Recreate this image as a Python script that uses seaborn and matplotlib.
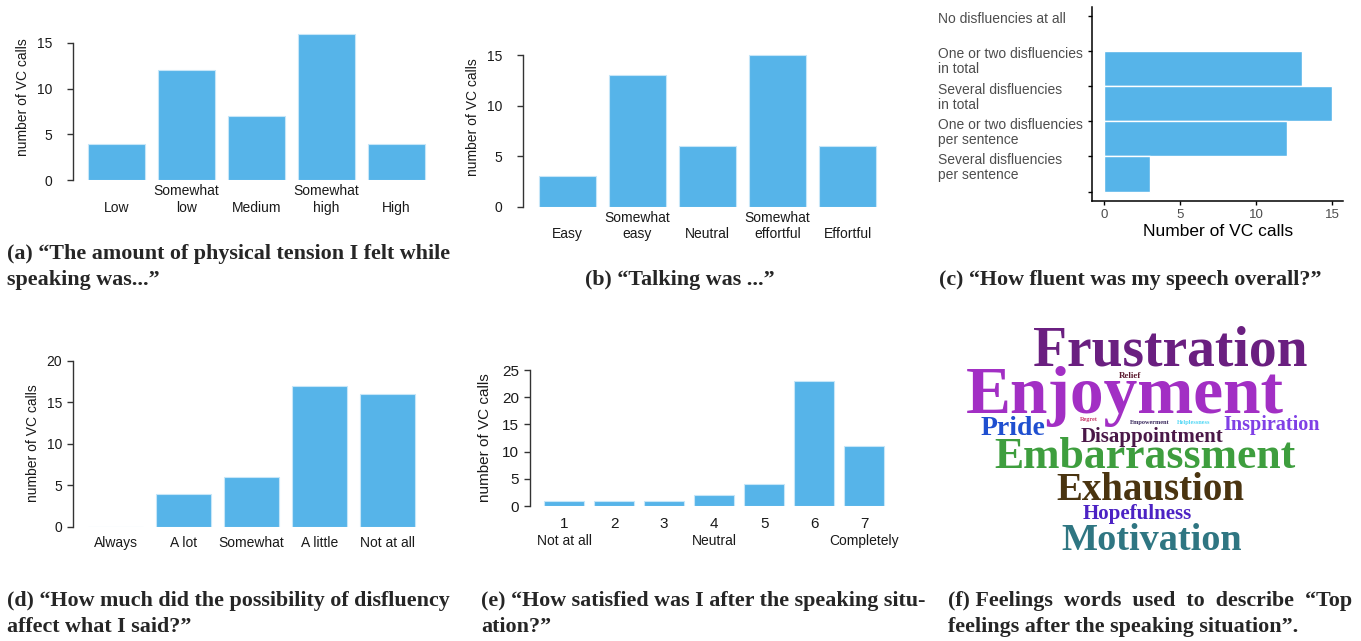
import numpy as np
import pandas as pd
import matplotlib
matplotlib.use('Agg')
import matplotlib.pyplot as plt
import matplotlib.transforms as mtransforms
import seaborn as sns


sns.set_style('white')
plt.rcParams['font.family'] = ['Liberation Sans', 'DejaVu Sans']

BAR = '#56B4E9'
EDGE = '#c6e6f8'

# (a) physical tension
tension_levels = ['Low', 'Somewhat\nlow', 'Medium', 'Somewhat\nhigh', 'High']
tension_calls = [4, 12, 7, 16, 4]

# (b) talking effort
talk_levels = ['Easy', 'Somewhat\neasy', 'Neutral', 'Somewhat\neffortful', 'Effortful']
talk_calls = [3, 13, 6, 15, 6]

# (c) fluency, top to bottom
fluency_levels = ['No disfluencies at all',
                  'One or two disfluencies\nin total',
                  'Several disfluencies\nin total',
                  'One or two disfluencies\nper sentence',
                  'Several disfluencies\nper sentence']
fluency_calls = [0, 13, 15, 12, 3]
fluency_ticks = [0, 5, 10, 15]

# (d) disfluency affecting speech
affect_levels = ['Always', 'A lot', 'Somewhat', 'A little', 'Not at all']
affect_calls = [0, 4, 6, 17, 16]

# (e) satisfaction
satisfied_scores = ['1', '2', '3', '4', '5', '6', '7']
satisfied_calls = [1, 1, 1, 2, 4, 23, 11]
satisfied_anchor_pos = [0, 3, 6]
satisfied_anchor_text = ['Not at all', 'Neutral', 'Completely']

# (f) feeling words
feeling_words = ['Frustration', 'Enjoyment', 'Relief', 'Pride', 'Regret', 'Empowerment',
                 'Helplessness', 'Inspiration', 'Disappointment', 'Embarrassment',
                 'Exhaustion', 'Hopefulness', 'Motivation']
feeling_colors = ['#6a1f80', '#a22fc4', '#5c1a2e', '#1f4fd0', '#c83a6a', '#3a2a5e',
                  '#4fd7f5', '#8040e6', '#4a1848', '#3e9e3e', '#4a3410', '#4c22c4', '#2f7682']

captions = ['(a) \u201cThe amount of physical tension I felt while\nspeaking was...\u201d',
            '(b) \u201cTalking was ...\u201d',
            '(c) \u201cHow fluent was my speech overall?\u201d',
            '(d) \u201cHow much did the possibility of disfluency\naffect what I said?\u201d',
            '(e) \u201cHow satisfied was I after the speaking situ-\nation?\u201d',
            '(f) Feelings  words  used  to  describe  \u201cTop\nfeelings after the speaking situation\u201d.']


W, H = 1361, 641
fig = plt.figure(figsize=(W / 100, H / 100), dpi=100)


def px_axes(left, top, right, bottom):
    return fig.add_axes([left / W, 1 - bottom / H, (right - left) / W, (bottom - top) / H])


def r_bars(levels, calls, left, right, bottom, ppu, c0, pitch, ymax, yticks,
           width, ypad, xpad, fs=10, ylab_fs=10, ylab_xy=(0, 0)):
    ax = px_axes(left, bottom - ymax * ppu, right, bottom)
    df = pd.DataFrame({'level': levels, 'calls': calls})
    sns.barplot(data=df, x='level', y='calls', color=BAR, saturation=1, width=width,
                edgecolor=EDGE, linewidth=0.8, errorbar=None, ax=ax)
    ax.set_xlim(-(c0 - left) / pitch, (right - c0) / pitch)
    ax.set_ylim(0, ymax)
    sns.despine(ax=ax, bottom=True)
    ax.spines['left'].set_bounds(yticks[0], yticks[-1])
    ax.spines['left'].set_color('#333333')
    ax.spines['left'].set_linewidth(1)
    ax.set_yticks(yticks)
    ax.tick_params(axis='y', left=True, length=4, width=1, color='#333333',
                   pad=ypad, labelsize=fs, labelcolor='#1a1a1a')
    ax.tick_params(axis='x', length=0, pad=xpad, labelsize=fs, labelcolor='#1a1a1a')
    if any('\n' in l for l in levels):
        ax.set_xticks(range(len(levels)))
        ax.set_xticklabels([l if '\n' in l else '\n' + l for l in levels])
    ax.set_xlabel('')
    ax.set_ylabel('number of VC calls', fontsize=ylab_fs, color='#1a1a1a')
    ax.yaxis.set_label_coords(ylab_xy[0] / W, 1 - ylab_xy[1] / H, transform=fig.transFigure)
    return ax


# (a)
r_bars(tension_levels, tension_calls, 73, 440, 180.3, 9.17, 116.5, 70, 17,
       [0, 5, 10, 15], 0.814, ypad=11, xpad=3, ylab_xy=(30, 97))

# (b)
r_bars(talk_levels, talk_calls, 523, 890, 206.7, 10.11, 567.5, 70, 16.5,
       [0, 5, 10, 15], 0.814, ypad=11, xpad=3, ylab_xy=(480, 117))

# (d)
r_bars(affect_levels, affect_calls, 73.3, 440, 526.7, 8.3, 115.5, 68, 20.5,
       [0, 5, 10, 15, 20], 0.81, ypad=4, xpad=6.5, ylab_xy=(40, 443))

# (e)
axe = r_bars(satisfied_scores, satisfied_calls, 530, 900, 506, 5.44, 564.2, 50, 25.5,
             [0, 5, 10, 15, 20, 25], 0.806, ypad=4, xpad=8, fs=11, ylab_fs=11,
             ylab_xy=(492, 438))
for pos, txt in zip(satisfied_anchor_pos, satisfied_anchor_text):
    axe.annotate(txt, xy=(pos, 0), xycoords='data', xytext=(0, -25), textcoords='offset points',
                 ha='center', va='center', fontsize=10, color='#1a1a1a', annotation_clip=False)

# (c) horizontal bars, ggplot look
axc = px_axes(1092.3, 6.7, 1343, 200.7)
dfc = pd.DataFrame({'level': fluency_levels, 'calls': fluency_calls})
sns.barplot(data=dfc, y='level', x='calls', orient='h', color=BAR, saturation=1, width=1,
            edgecolor='white', linewidth=1, errorbar=None, ax=axc)
axc.set_xlim(-0.77, 15.7)
axc.set_ylim(4.756, -0.756)
sns.despine(ax=axc)
for s in ['left', 'bottom']:
    axc.spines[s].set_color('black')
    axc.spines[s].set_linewidth(1.1)
edges = np.arange(len(fluency_levels) + 1) - 0.5
axc.set_yticks(edges)
axc.set_yticklabels([])
axc.set_xticks(fluency_ticks)
axc.tick_params(axis='both', length=3, width=1, color='black', left=True, bottom=True)
axc.tick_params(axis='x', labelsize=9.5, labelcolor='#4d4d4d', pad=3)
axc.set_ylabel('')
axc.set_xlabel('Number of VC calls', fontsize=12.5, color='black', labelpad=2)
lab_tr = mtransforms.blended_transform_factory(fig.transFigure, axc.transData)
for i, lab in enumerate(fluency_levels):
    axc.text(938 / W, edges[i] - 0.1, lab, transform=lab_tr, ha='left', va='top',
             fontsize=10, color='#4d4d4d', linespacing=1.1)

# (f) word cloud
axf = px_axes(950, 320, 1361, 565)
axf.set_xlim(950, 1361)
axf.set_ylim(565, 320)
axf.axis('off')
word_xy = [(1170, 365), (1125, 413), (1130, 378), (1013, 435), (1089, 421), (1150, 424),
           (1194, 424), (1272, 430), (1152, 442), (1145, 468), (1150, 500), (1137, 519),
           (1152, 550)]
word_pt = [40, 48.5, 6.5, 20, 4.5, 4.5, 4.5, 14.5, 15, 31.5, 28, 15, 27.5]
for w, c, (x, y), s in zip(feeling_words, feeling_colors, word_xy, word_pt):
    axf.text(x, y, w, ha='center', va='baseline', fontsize=s, color=c,
             family='Liberation Serif', weight='bold')

# captions
cap_xy = [(7, 244, 'left'), (680, 270, 'center'), (1130, 270, 'center'),
          (7, 591, 'left'), (481, 591, 'left'), (948, 591, 'left')]
for txt, (x, y, ha) in zip(captions, cap_xy):
    fig.text(x / W, 1 - y / H, txt, ha=ha, va='top', fontsize=15.8,
             family='Liberation Serif', weight='bold', linespacing=1.38)

plt.savefig('out.png', dpi=100)
